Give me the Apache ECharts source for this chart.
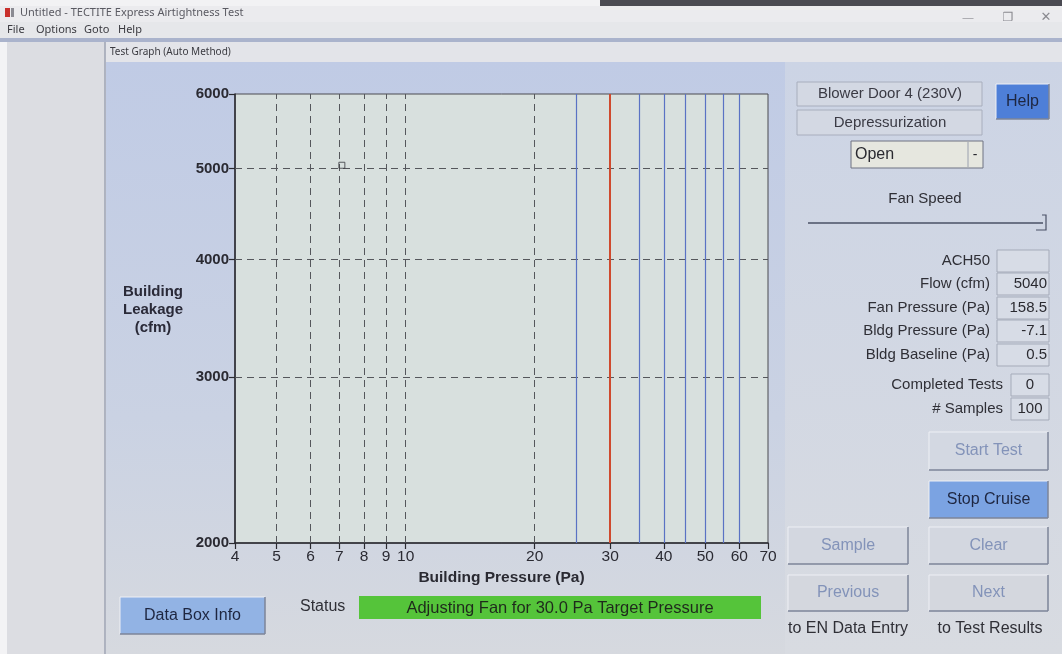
<!DOCTYPE html>
<html>
<head>
<meta charset="utf-8">
<script src="https://cdn.jsdelivr.net/npm/echarts@6/dist/echarts.min.js"></script>
<style>
html,body{margin:0;padding:0;background:#e4e5e9;}
#c{width:1062px;height:654px;}
</style>
</head>
<body>
<div id="c"></div>
<script>
// ---- chart data ----
const xTicks = [4, 5, 6, 7, 8, 9, 10, 20, 30, 40, 50, 60, 70];
const yTicks = [2000, 3000, 4000, 5000, 6000];
const dashedX = [5, 6, 7, 8, 9, 10, 20];
const dashedY = [3000, 4000, 5000];
const blueLines = [25, 35, 40, 45, 50, 55, 60];
const targetPressure = [30];
const samplePoints = [[7.1, 5040]];

// ---- panel texts ----
const readoutLabels = ['ACH50', 'Flow (cfm)', 'Fan Pressure (Pa)', 'Bldg Pressure (Pa)', 'Bldg Baseline (Pa)'];
const readoutValues = ['', '5040', '158.5', '-7.1', '0.5'];
const countLabels = ['Completed Tests', '# Samples'];
const countValues = ['0', '100'];

const FONT = '"Liberation Sans", Arial, sans-serif';
const NARROW = '"Liberation Sans Narrow", "Liberation Sans", Arial, sans-serif';

const g = [];
function rect(x, y, w, h, fill, stroke, z) {
  g.push({type: 'rect', z: z === undefined ? -5 : z, silent: true,
    shape: {x, y, width: w, height: h},
    style: {fill, stroke: stroke || null, lineWidth: 1}});
}
function line(x1, y1, x2, y2, stroke, w, z) {
  g.push({type: 'line', z: z === undefined ? -4 : z, silent: true,
    shape: {x1, y1, x2, y2}, style: {stroke, lineWidth: w || 1}});
}
function text(t, x, y, size, fill, align, opts) {
  opts = opts || {};
  g.push({type: 'text', z: 5, silent: true, x, y,
    style: {text: t, fill, align: align || 'left', verticalAlign: 'middle',
      font: (opts.weight || 'normal') + ' ' + size + 'px ' + (opts.family || FONT)}});
}
function button(x, y, w, h, fill, label, color, size) {
  rect(x, y, w, h, fill, null, -3);
  line(x, y, x + w, y, '#eef0f5', 1, -2);
  line(x, y, x, y + h, '#eef0f5', 1, -2);
  line(x, y + h, x + w, y + h, '#7d8598', 1.5, -2);
  line(x + w, y, x + w, y + h, '#7d8598', 1.5, -2);
  text(label, x + w / 2, y + h / 2, size || 16, color, 'center');
}

// window chrome
rect(0, 0, 1062, 654, '#e2e3e7', null, -20);
rect(0, 0, 1062, 6, '#f2f2f4', null, -19);
rect(600, 0, 462, 6, '#4a4a52', null, -19);
rect(0, 6, 1062, 16, '#ebebee', null, -19);
rect(5, 8, 5, 9, '#c9302c', null, -18);
rect(11, 8, 3, 9, '#8a8a92', null, -18);
text('Untitled - TECTITE Express Airtightness Test', 20, 13, 11, '#5a5a62', 'left', {family: '"Noto Sans", sans-serif'});
text('—', 968, 18, 11, '#9a9aa0', 'center');
text('❐', 1008, 18, 12, '#8a8a90', 'center', {family: '"DejaVu Sans", sans-serif'});
text('✕', 1046, 18, 13, '#8a8a90', 'center', {family: '"DejaVu Sans", sans-serif'});
rect(0, 22, 1062, 16, '#e6e7ea', null, -19);
text('File', 7, 30, 11, '#3a3a40', 'left', {family: '"Noto Sans", sans-serif'});
text('Options', 36, 30, 11, '#3a3a40', 'left', {family: '"Noto Sans", sans-serif'});
text('Goto', 84, 30, 11, '#3a3a40', 'left', {family: '"Noto Sans", sans-serif'});
text('Help', 118, 30, 11, '#3a3a40', 'left', {family: '"Noto Sans", sans-serif'});
rect(0, 38, 1062, 4, '#aab3cc', null, -18);
rect(0, 42, 7, 612, '#f3f3f5', null, -18);
rect(7, 42, 98, 612, '#dcdde2', null, -18);
line(105, 42, 105, 654, '#9ea3b3', 1.5, -17);
// dialog
rect(106, 42, 956, 20, '#e3e4e9', null, -18);
text('Test Graph (Auto Method)', 110, 52, 10, '#3a3a40', 'left', {family: '"Noto Sans", sans-serif'});
g.push({type: 'rect', z: -18, silent: true, shape: {x: 106, y: 62, width: 956, height: 592},
  style: {fill: {type: 'linear', x: 0, y: 0, x2: 0, y2: 1,
    colorStops: [{offset: 0, color: '#c0cbe5'}, {offset: 0.6, color: '#cad2e3'}, {offset: 1, color: '#d6d9df'}]}}});
g.push({type: 'rect', z: -17, silent: true, shape: {x: 785, y: 62, width: 277, height: 592},
  style: {fill: {type: 'linear', x: 0, y: 0, x2: 0, y2: 1,
    colorStops: [{offset: 0, color: '#ccd4e5'}, {offset: 1, color: '#d8dbe1'}]}}});

// right panel
rect(797, 82, 185, 24, '#d3d8e3', '#a8aebd', -3);
text('Blower Door 4 (230V)', 890, 94, 15, '#3a3a44', 'center');
rect(797, 110, 185, 25, '#d3d8e3', '#a8aebd', -3);
text('Depressurization', 890, 123, 15, '#3a3a44', 'center');
rect(851, 141, 132, 27, '#e6e7df', '#6e7382', -3);
line(968, 142, 968, 167, '#9aa0ae', 1, -2);
text('Open', 855, 155, 16, '#2a2a30', 'left');
text('-', 975, 155, 14, '#2a2a30', 'center');
button(996, 84, 53, 35, '#4e7fd8', 'Help', '#1e2640', 16);
text('Fan Speed', 925, 199, 15, '#2f2f36', 'center');
line(808, 223, 1043, 223, '#4a5066', 1.5, -2);
g.push({type: 'polyline', z: -2, silent: true, shape: {points: [[1042, 215], [1046, 215], [1046, 230], [1036, 230]]},
  style: {stroke: '#4a5066', lineWidth: 1.2, fill: null}});
const rowY = [261, 284, 308, 331, 355];
readoutLabels.forEach((l, i) => {
  text(l, 990, rowY[i], 15, '#2f2f36', 'right');
  rect(997, rowY[i] - 11, 52, 22, '#d7dce6', '#a5abb9', -3);
  text(readoutValues[i], 1047, rowY[i], 15, '#2a2a30', 'right');
});
const cntY = [385, 409];
countLabels.forEach((l, i) => {
  text(l, 1003, cntY[i], 15, '#2f2f36', 'right');
  rect(1011, cntY[i] - 11, 38, 22, '#d7dce6', '#a5abb9', -3);
  text(countValues[i], 1030, cntY[i], 15, '#2a2a30', 'center');
});
const dis = '#8393b9';
button(929, 432, 119, 38, '#d3d8e2', 'Start Test', dis);
button(929, 481, 119, 37, '#7ba3e2', 'Stop Cruise', '#1e2640');
button(788, 527, 120, 37, '#d3d7e0', 'Sample', dis);
button(929, 527, 119, 37, '#d3d7e0', 'Clear', dis);
button(788, 575, 120, 36, '#d4d7de', 'Previous', dis);
button(929, 575, 119, 36, '#d4d7de', 'Next', dis);
text('to EN Data Entry', 848, 629, 16, '#2f2f36', 'center');
text('to Test Results', 990, 629, 16, '#2f2f36', 'center');

// bottom left
button(120, 597, 145, 37, '#92b3e4', 'Data Box Info', '#1e2640');
text('Status', 300, 607, 16, '#2f2f36', 'left', {family: NARROW});
rect(359, 596, 402, 23, '#55c43a', null, -3);
text('Adjusting Fan for 30.0 Pa Target Pressure', 560, 608, 16.5, '#1f2a1c', 'center', {family: NARROW});

function vLines(vals, color, width, type) {
  return vals.map(v => ({xAxis: v, lineStyle: {color, width, type}}));
}

const chart = echarts.init(document.getElementById('c'), null, {renderer: 'canvas'});
chart.setOption({
  animation: false,
  backgroundColor: 'transparent',
  graphic: g,
  grid: {left: 235, right: 294, top: 94, bottom: 111, show: true,
    backgroundColor: '#d8e0de', borderColor: '#4a4a50', borderWidth: 1},
  xAxis: {
    type: 'log', logBase: 10, min: 4, max: 70,
    name: 'Building Pressure (Pa)', nameLocation: 'middle', nameGap: 26,
    nameTextStyle: {fontFamily: FONT, fontSize: 15.5, fontWeight: 'bold', color: '#2a2a32', verticalAlign: 'top'},
    axisLine: {show: true, lineStyle: {color: '#2a2a30', width: 1.5}},
    axisTick: {show: true, length: 6, inside: false, customValues: xTicks, lineStyle: {color: '#2a2a30', width: 1.2}},
    axisLabel: {show: true, customValues: xTicks, formatter: v => String(v),
      fontFamily: FONT, fontSize: 15.5, color: '#2a2a32', margin: 6},
    splitLine: {show: false}, minorTick: {show: false}
  },
  yAxis: {
    type: 'log', logBase: 10, min: 2000, max: 6000,
    name: 'Building\nLeakage\n(cfm)\n ', nameLocation: 'middle', nameRotate: 0, nameGap: 82,
    nameTextStyle: {fontFamily: FONT, fontSize: 15, fontWeight: 'bold', color: '#2a2a38', align: 'center', lineHeight: 18},
    axisLine: {show: true, lineStyle: {color: '#2a2a30', width: 1.5}},
    axisTick: {show: true, length: 6, customValues: yTicks, lineStyle: {color: '#2a2a30', width: 1.2}},
    axisLabel: {show: true, customValues: yTicks, formatter: v => String(v),
      fontFamily: FONT, fontSize: 15, fontWeight: 'bold', color: '#2a2a32', margin: 6},
    splitLine: {show: false}, minorTick: {show: false}
  },
  series: [
    {type: 'scatter', data: samplePoints, symbol: 'rect', symbolSize: 6, z: 5,
      itemStyle: {color: 'rgba(0,0,0,0)', borderColor: '#3a3a40', borderWidth: 1},
      markLine: {silent: true, symbol: 'none', label: {show: false},
        data: vLines(dashedX, '#55575c', 1, [7, 5]).concat(
          dashedY.map(v => ({yAxis: v, lineStyle: {color: '#55575c', width: 1, type: [7, 5]}})))}},
    {type: 'line', data: [], markLine: {silent: true, symbol: 'none', label: {show: false},
      data: vLines(blueLines, '#5a72c4', 1.2, 'solid')}},
    {type: 'line', data: [], markLine: {silent: true, symbol: 'none', label: {show: false},
      data: vLines(targetPressure, '#cf4a2e', 2, 'solid')}}
  ]
});
</script>
</body>
</html>
